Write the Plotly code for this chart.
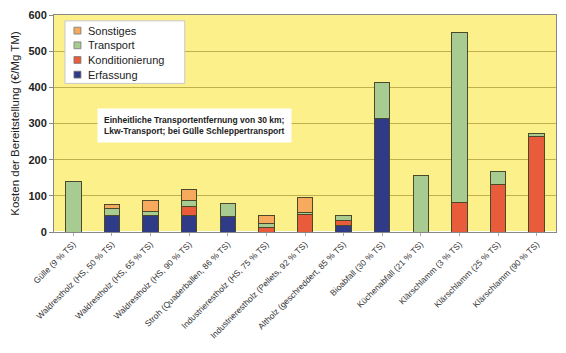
import plotly.graph_objects as go

categories = ["Gülle (9 % TS)", "Waldrestholz (HS, 50 % TS)", "Waldrestholz (HS, 65 % TS)",
              "Waldrestholz (HS, 90 % TS)", "Stroh (Quaderballen, 86 % TS)",
              "Industrierestholz (HS, 75 % TS)", "Industrierestholz (Pellets, 92 % TS)",
              "Altholz (geschreddert, 85 % TS)", "Bioabfall (30 % TS)", "Küchenabfall (21 % TS)",
              "Klärschlamm (3 % TS)", "Klärschlamm (25 % TS)", "Klärschlamm (90 % TS)"]
erfassung = [0, 45, 45, 45, 43, 0, 0, 18, 314, 0, 0, 0, 0]
konditionierung = [0, 0, 0, 26, 0, 12, 48, 14, 0, 0, 81, 130, 263]
transport = [140, 19, 12, 16, 37, 11, 7, 15, 98, 157, 472, 37, 8]
sonstiges = [0, 11, 31, 31, 0, 22, 40, 0, 0, 0, 0, 0, 0]
yticks = [0, 100, 200, 300, 400, 500, 600]

series = [("Erfassung", erfassung, "#2f3b86"),
          ("Konditionierung", konditionierung, "#e85c3c"),
          ("Transport", transport, "#a8cb92"),
          ("Sonstiges", sonstiges, "#f7a95e")]

fig = go.Figure()
for name, vals, col in series:
    fig.add_trace(go.Bar(x=categories, y=vals, name=name, marker_color=col,
                         marker_line=dict(color="#4a4a2a", width=1)))

# plot area geometry (px) for the hand-built legend
W, H = 566, 353
L, R, T, B = 54, 9, 10, 121
pw, ph = W - L - R, H - T - B
def px(x): return (x - L) / pw
def py(y): return (H - B - y) / ph

shapes = [dict(type="rect", xref="paper", yref="paper", x0=px(65), x1=px(185), y0=py(80), y1=py(16),
               fillcolor="white", line=dict(color="#c8c8c8", width=1), layer="above")]
annotations = []
for i, (name, vals, col) in enumerate(reversed(series)):
    cy = 26 + 15 * i
    shapes.append(dict(type="rect", xref="paper", yref="paper", x0=px(74), x1=px(81),
                       y0=py(cy + 3.5), y1=py(cy - 3.5), fillcolor=col,
                       line=dict(color="#777", width=0.8), layer="above"))
    annotations.append(dict(text=name, xref="paper", yref="paper", x=px(86), y=py(cy),
                            xanchor="left", yanchor="middle", showarrow=False,
                            font=dict(size=11, color="#222")))

annotations.append(dict(text="<b>Einheitliche Transportentfernung von 30 km;<br>Lkw-Transport; bei Gülle Schleppertransport</b>",
                        xref="paper", yref="paper", x=px(97), y=py(123), xanchor="left", yanchor="middle",
                        showarrow=False, align="left", bgcolor="white", borderpad=6,
                        font=dict(size=8.5, color="#222")))

fig.update_layout(
    barmode="stack", bargap=0.6,
    width=W, height=H,
    margin=dict(l=L, r=R, t=T, b=B),
    paper_bgcolor="white", plot_bgcolor="#fbf08a",
    font=dict(family="Liberation Sans, Arial", color="#222"),
    showlegend=False,
    xaxis=dict(tickangle=-45, tickfont=dict(size=8.5, color="#333"), showline=True,
               linecolor="#888", mirror=True, ticks="outside", ticklen=3, tickcolor="#aaa"),
    yaxis=dict(range=[0, 600], tickvals=yticks, ticktext=["<b>%d</b>" % v for v in yticks],
               tickfont=dict(size=11, color="#222"),
               gridcolor="#c0b04e", gridwidth=1, showline=True, linecolor="#888", mirror=True,
               ticks="outside", ticklen=4, tickcolor="#888",
               title=dict(text="Kosten der Bereitstellung (€/Mg TM)", font=dict(size=11.5, color="#222"),
                          standoff=6)),
    shapes=shapes,
    annotations=annotations,
)

fig.write_html("out.html")
